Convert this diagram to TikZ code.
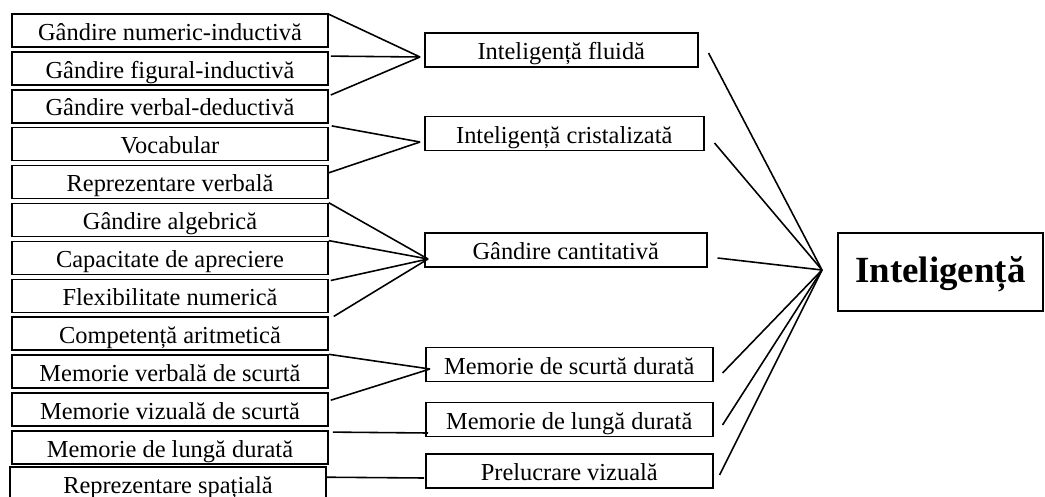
\documentclass[tikz,border=0pt]{standalone}
\usepackage{fontspec}
\setmainfont{Liberation Serif}
\usetikzlibrary{calc}
\tikzset{
  leftbox/.style={draw,line width=0.9pt,minimum width=6.32cm,minimum height=0.66cm,
    inner sep=0pt,text height=11pt,text depth=0pt,font=\fontsize{13.9}{16}\selectfont},
  midbox/.style={draw,line width=0.9pt,anchor=west,minimum height=0.68cm,
    inner sep=0pt,text height=11pt,text depth=0pt,font=\fontsize{13.9}{16}\selectfont},
  bigbox/.style={draw,line width=0.9pt,minimum width=4.1cm,minimum height=1.56cm,
    inner sep=0pt,text height=11.4pt,text depth=0pt,font=\fontsize{21}{25}\selectfont\bfseries},
  link/.style={line width=0.9pt}
}
\begin{document}
\begin{tikzpicture}[x=0.02cm,y=-0.02cm]
    \useasboundingbox (0,0) rectangle (1045,497);
    % Left column
    \node[leftbox] (g1) at (170,30.5) {Gândire numeric-inductivă};
    \node[leftbox] (g2) at (170,68.4) {Gândire figural-inductivă};
    \node[leftbox] (g3) at (170,106.3) {Gândire verbal-deductivă};
    \node[leftbox] (g4) at (170,144.2) {Vocabular};
    \node[leftbox] (g5) at (170,182.1) {Reprezentare verbală};
    \node[leftbox] (g6) at (170,220.0) {Gândire algebrică};
    \node[leftbox] (g7) at (170,257.9) {Capacitate de apreciere};
    \node[leftbox] (g8) at (170,295.8) {Flexibilitate numerică};
    \node[leftbox] (g9) at (170,333.7) {Competență aritmetică};
    \node[leftbox] (g10) at (170,371.6) {Memorie verbală de scurtă};
    \node[leftbox] (g11) at (170,409.5) {Memorie vizuală de scurtă};
    \node[leftbox] (g12) at (170,447.4) {Memorie de lungă durată};
    \node[leftbox] (g13) at (168,483.5) {Reprezentare spațială};
    % Middle column
    \node[midbox,minimum width=5.46cm] (fluid) at (424,50) {Inteligență fluidă};
    \node[midbox,minimum width=5.58cm] (crist) at (424,133.5) {Inteligență cristalizată};
    \node[midbox,minimum width=5.64cm] (cant) at (424,250) {Gândire cantitativă};
    \node[midbox,minimum width=5.74cm] (scurta) at (425,364.5) {Memorie de scurtă durată};
    \node[midbox,minimum width=5.74cm] (lunga) at (425,419.5) {Memorie de lungă durată};
    \node[midbox,minimum width=5.74cm] (prel) at (425,471) {Prelucrare vizuală};
    % Main box
    \node[bigbox] (intel) at (940.5,272) {Inteligență};
    % meeting points
    \coordinate (cFluid) at (420,57);
    \coordinate (cCrist) at (420,142);
    \coordinate (cCant) at (428,259);
    \coordinate (cScurta) at (430,369);
    \coordinate (cLunga) at (428,433);
    \coordinate (cPrel) at (424,478);
    \coordinate (hub) at (822,270);
    % Left to middle
    \draw[link] (g1.north east) ++(0,1) -- (cFluid);
    \draw[link] (g2.north east) ++(2,5) -- (cFluid);
    \draw[link] (g3.north east) ++(2,6) -- (cFluid);
    \draw[link] (g4.north east) ++(3,-1) -- (cCrist);
    \draw[link] (g5.north east) ++(0,8) -- (cCrist);
    \draw[link] (g6.north east) -- (cCant);
    \draw[link] (g7.north east) -- (cCant);
    \draw[link] (g8.north east) ++(2,2) -- (cCant);
    \draw[link] (g9.north east) ++(5,0) -- (cCant);
    \draw[link] (g10.north east) -- (cScurta);
    \draw[link] (g11.north east) ++(2,8) -- (cScurta);
    \draw[link] (g12.north east) ++(4,2) -- (cLunga);
    \draw[link] (g13.north east) ++(0,11) -- (cPrel);
    % Middle to main
    \draw[link] (fluid.east) ++(10,3) -- (hub);
    \draw[link] (crist.east) ++(10,9.5) -- (hub);
    \draw[link] (cant.east) ++(10,8) -- (hub);
    \draw[link] (scurta.east) ++(9,8.5) -- (hub);
    \draw[link] (lunga.east) ++(9,5.5) -- (hub);
    \draw[link] (prel.east) ++(6,4) -- (hub);
\end{tikzpicture}
\end{document}
